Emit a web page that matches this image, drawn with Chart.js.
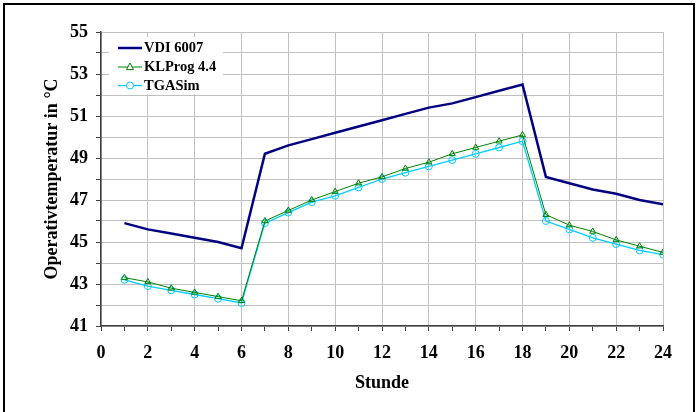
<!DOCTYPE html>
<html><head><meta charset="utf-8">
<script src="https://cdn.jsdelivr.net/npm/chart.js@4/dist/chart.umd.min.js"></script>
<style>
html,body{margin:0;padding:0;background:#fff;overflow:hidden}
#frame{position:absolute;left:3px;top:3px;width:688px;height:440px;border:2px solid #000;pointer-events:none}
canvas{display:block}
</style></head><body>
<canvas id="c" width="699" height="412"></canvas>
<div id="frame"></div>
<script>
const hours = [1,2,3,4,5,6,7,8,9,10,11,12,13,14,15,16,17,18,19,20,21,22,23,24];
const vdi6007 = [45.9,45.6,45.4,45.2,45.0,44.7,49.2,49.6,49.9,50.2,50.5,50.8,51.1,51.4,51.6,51.9,52.2,52.5,48.1,47.8,47.5,47.3,47.0,46.8];
const klprog44 = [43.3,43.1,42.8,42.6,42.4,42.2,46.0,46.5,47.0,47.4,47.8,48.1,48.5,48.8,49.2,49.5,49.8,50.1,46.3,45.8,45.5,45.1,44.8,44.5];
const tgasim = [43.2,42.9,42.7,42.5,42.3,42.1,45.9,46.4,46.9,47.2,47.6,48.0,48.3,48.6,48.9,49.2,49.5,49.8,46.0,45.6,45.2,44.9,44.6,44.4];
const seriesNames = ['VDI 6007','KLProg 4.4','TGASim'];
const xLabelStep = 2;
const yLabels = [41,43,45,47,49,51,53,55];
const xTitle = 'Stunde';
const yTitle = 'Operativtemperatur in °C';

const FONT = "'Liberation Serif','Times New Roman',serif";
const pts = arr => arr.map((v,i)=>({x:hours[i], y:v}));

const legendPlugin = {
  id:'customLegend',
  afterDraw(chart){
    const ctx = chart.ctx;
    const ds = chart.data.datasets;
    const order = [0,1,2];
    ctx.save();
    ctx.fillStyle = '#fff';
    ctx.fillRect(109, 37, 114, 57);
    const rows = [48, 67, 85.5];
    order.forEach((di, r) => {
      const d = ds[di];
      const y = rows[r];
      ctx.strokeStyle = d.borderColor;
      ctx.lineWidth = d.borderWidth;
      ctx.beginPath(); ctx.moveTo(118, y); ctx.lineTo(142, y); ctx.stroke();
      if (d.pointRadius > 0) {
        ctx.lineWidth = 1;
        ctx.strokeStyle = d.pointBorderColor;
        ctx.fillStyle = '#fff';
        const rr = d.pointRadius;
        ctx.beginPath();
        if (d.pointStyle === 'triangle') {
          ctx.moveTo(130, y - rr*1.15);
          ctx.lineTo(130 + rr, y + rr*0.75);
          ctx.lineTo(130 - rr, y + rr*0.75);
          ctx.closePath();
        } else {
          ctx.arc(130, y, rr, 0, Math.PI*2);
        }
        ctx.fill(); ctx.stroke();
      }
      ctx.fillStyle = '#000';
      ctx.font = "bold 14.5px " + FONT;
      ctx.textBaseline = 'middle';
      ctx.textAlign = 'left';
      ctx.fillText(d.label, 144, y + 0.5);
    });
    ctx.restore();
  }
};

new Chart(document.getElementById('c'), {
  type:'line',
  data:{
    datasets:[
      {label:seriesNames[0], data:pts(vdi6007), borderColor:'#000080', backgroundColor:'#000080', borderWidth:2.5, pointRadius:0, tension:0},
      {label:seriesNames[1], data:pts(klprog44), borderColor:'#008000', pointBorderColor:'#008000', pointBackgroundColor:'rgba(255,255,255,0)', borderWidth:1, pointRadius:3.5, pointStyle:'triangle', pointBorderWidth:1, tension:0},
      {label:seriesNames[2], data:pts(tgasim), borderColor:'#00ccff', pointBorderColor:'#00ccff', pointBackgroundColor:'rgba(255,255,255,0)', borderWidth:1.3, pointRadius:3.5, pointStyle:'circle', pointBorderWidth:1, tension:0}
    ]
  },
  options:{
    responsive:false, animation:false, devicePixelRatio:1,
    layout:{padding:{left:0, top:32, right:36, bottom:0}},
    plugins:{legend:{display:false}, tooltip:{enabled:false}},
    scales:{
      x:{
        type:'linear', min:0, max:24,
        afterFit(s){ s.height = 86; },
        border:{color:'#404040', width:1.5},
        grid:{
          color:c => (c.tick && c.tick.value % xLabelStep === 0) ? '#c0c0c0' : 'rgba(0,0,0,0)',
          tickColor:'#404040', tickLength:5, lineWidth:1, drawTicks:true
        },
        ticks:{stepSize:1, autoSkip:false, maxRotation:0, padding:12, color:'#000',
          font:{family:FONT, size:18, weight:'bold'},
          callback:v => (v % xLabelStep === 0) ? String(v) : ''},
        title:{display:true, text:xTitle, color:'#000', font:{family:FONT, size:18, weight:'bold'}, padding:{top:18,bottom:18}}
      },
      y:{
        min:41, max:55,
        afterFit(s){ s.width = 101; },
        border:{color:'#404040', width:1.5},
        grid:{color:'#c0c0c0', tickColor:'#404040', tickLength:5, lineWidth:1},
        ticks:{stepSize:1, autoSkip:false, padding:8, color:'#000',
          font:{family:FONT, size:18, weight:'bold'},
          callback:v => yLabels.includes(v) ? String(v) : ''},
        title:{display:true, text:yTitle, color:'#000', font:{family:FONT, size:18, weight:'bold'}, padding:{top:42,bottom:42}}
      }
    }
  },
  plugins:[legendPlugin]
});
</script>
</body></html>
